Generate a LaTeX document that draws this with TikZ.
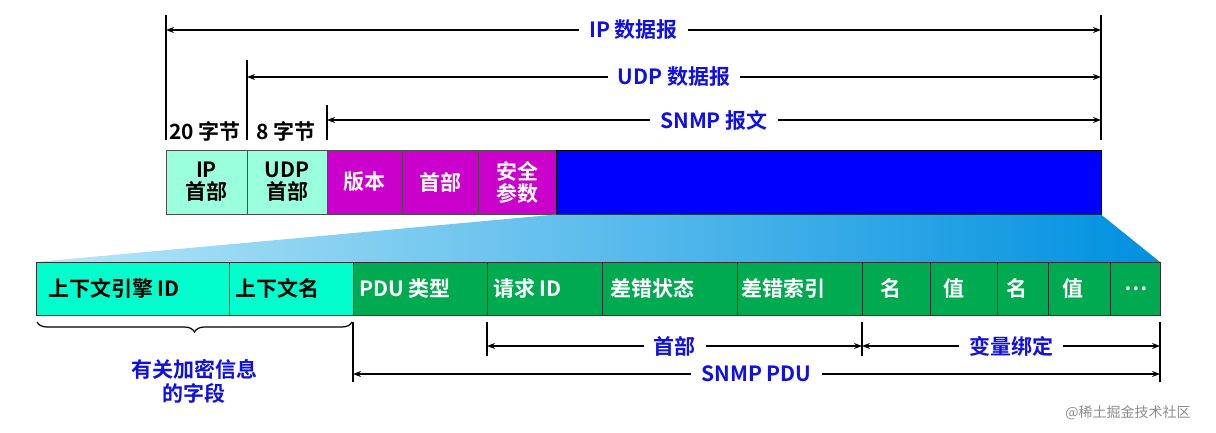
\documentclass[tikz,border=0pt]{standalone}
\usepackage{fontspec}
\setmainfont{Noto Sans CJK SC}[BoldFont={Noto Sans CJK SC Bold}]
\usetikzlibrary{arrows.meta,decorations.pathreplacing}
\definecolor{aqua}{HTML}{99FFDD}
\definecolor{mag}{HTML}{CC00CC}
\definecolor{cyan2}{HTML}{00FFCC}
\definecolor{grn}{HTML}{00AA50}
\definecolor{lbl}{HTML}{1010E0}
\definecolor{tl}{HTML}{B8E8F8}
\definecolor{tr}{HTML}{0090E0}
\begin{document}
\begin{tikzpicture}[x=1pt,y=-1pt,
 fld/.style={draw=black!70,line width=0.6pt,minimum height=64pt,inner sep=0pt,font=\bfseries\fontsize{21}{22}\selectfont,align=center},
 bfld/.style={draw=black!80,line width=0.6pt,minimum height=53pt,inner sep=0pt},
 blab/.style={anchor=west,inner sep=0pt,font=\bfseries\fontsize{21}{21}\selectfont},
 dim/.style={line width=1.2pt,{Stealth[length=8pt]}-{Stealth[length=8pt]}},
 tick/.style={line width=1.2pt},
 dlab/.style={fill=white,text=lbl,font=\bfseries\fontsize{21}{21}\selectfont,inner xsep=10pt}]
\useasboundingbox (0,0) rectangle (1216,433);
% top fields
\node[fld,fill=aqua,minimum width=81pt] (ip) at (206.5,182) {IP\\首部};
\node[fld,fill=aqua,minimum width=80pt] (udp) at (287,182) {UDP\\首部};
\node[fld,fill=mag,text=white,minimum width=75pt] (ver) at (364.5,182) {版本};
\node[fld,fill=mag,text=white,minimum width=76pt] (hd) at (440,182) {首部};
\node[fld,fill=mag,text=white,minimum width=78pt] (sec) at (517,182) {安全\\参数};
\node[fld,fill=blue,draw=black,minimum width=545pt] (pdu) at (828.5,182) {};
% trapezoid
\shade[left color=tl,right color=tr] (556,214.5) -- (1101,214.5) -- (1160,262) -- (36,262) -- cycle;
% bottom fields
\node[bfld,fill=cyan2,minimum width=193pt] (eng) at (132.5,288.5) {};
\node[bfld,fill=cyan2,minimum width=124pt] (cn) at (291,288.5) {};
\node[bfld,fill=grn,minimum width=134pt] (pt) at (420,288.5) {};
\node[bfld,fill=grn,minimum width=115pt] (rid) at (544.5,288.5) {};
\node[bfld,fill=grn,minimum width=135pt] (es) at (669.5,288.5) {};
\node[bfld,fill=grn,minimum width=125pt] (ei) at (799.5,288.5) {};
\node[bfld,fill=grn,minimum width=68pt] (n1) at (896,288.5) {};
\node[bfld,fill=grn,minimum width=67pt] (v1) at (963.5,288.5) {};
\node[bfld,fill=grn,minimum width=51pt] (n2) at (1022.5,288.5) {};
\node[bfld,fill=grn,minimum width=62pt] (v2) at (1079,288.5) {};
\node[bfld,fill=grn,minimum width=50pt] (dots) at (1135,288.5) {};
\node[blab] at (48,288.5) {上下文引擎 ID};
\node[blab] at (235,288.5) {上下文名};
\node[blab,text=white] at (359,288.5) {PDU 类型};
\node[blab,text=white] at (493,288.5) {请求 ID};
\node[blab,text=white] at (610,288.5) {差错状态};
\node[blab,text=white] at (741,288.5) {差错索引};
\node[blab,text=white] at (880,288.5) {名};
\node[blab,text=white] at (943,288.5) {值};
\node[blab,text=white] at (1006,288.5) {名};
\node[blab,text=white] at (1062,288.5) {值};
\node[blab,text=white] at (1124,288.5) {…};
% top dimension ticks
\coordinate (t0a) at (166,15); \coordinate (t0b) at (166,140);
\coordinate (t1a) at (247,60); \coordinate (t1b) at (247,140);
\coordinate (t2a) at (327,105); \coordinate (t2b) at (327,140);
\coordinate (t3a) at (1101,15); \coordinate (t3b) at (1101,140);
\foreach \i in {0,1,2,3}{\draw[tick] (t\i a) -- (t\i b);}
\coordinate (a1) at (166,30); \coordinate (b1) at (1101,30);
\draw[dim] (a1) -- node[dlab]{IP 数据报} (b1);
\coordinate (a2) at (247,77); \coordinate (b2) at (1101,77);
\draw[dim] (a2) -- node[dlab]{UDP 数据报} (b2);
\coordinate (a3) at (327,120); \coordinate (b3) at (1101,120);
\draw[dim] (a3) -- node[dlab]{SNMP 报文} (b3);
\node[blab] (b20) at (169,131) {20 字节};
\node[blab] (b8) at (256,131) {8 字节};
% bottom
\draw[line width=1.2pt,decorate,decoration={brace,mirror,amplitude=10pt}] (37,322) -- (352,322);
\node[text=lbl,font=\bfseries\fontsize{21}{24}\selectfont,align=center] (crypt) at (194,381) {有关加密信息\\的字段};
\coordinate (u0a) at (353,322); \coordinate (u0b) at (353,382);
\coordinate (u1a) at (487,322); \coordinate (u1b) at (487,356);
\coordinate (u2a) at (862,322); \coordinate (u2b) at (862,356);
\coordinate (u3a) at (1160,322); \coordinate (u3b) at (1160,382);
\foreach \i in {0,1,2,3}{\draw[tick] (u\i a) -- (u\i b);}
\coordinate (c1) at (487,346); \coordinate (d1) at (862,346);
\draw[dim] (c1) -- node[dlab]{首部} (d1);
\coordinate (c2) at (862,346); \coordinate (d2) at (1160,346);
\draw[dim] (c2) -- node[dlab]{变量绑定} (d2);
\coordinate (c3) at (353,374); \coordinate (d3) at (1160,374);
\draw[dim] (c3) -- node[dlab]{SNMP PDU} (d3);
\node[text=black!45,font=\fontsize{14}{14}\selectfont] (wm) at (1128,413) {@稀土掘金技术社区};
\end{tikzpicture}
\end{document}
